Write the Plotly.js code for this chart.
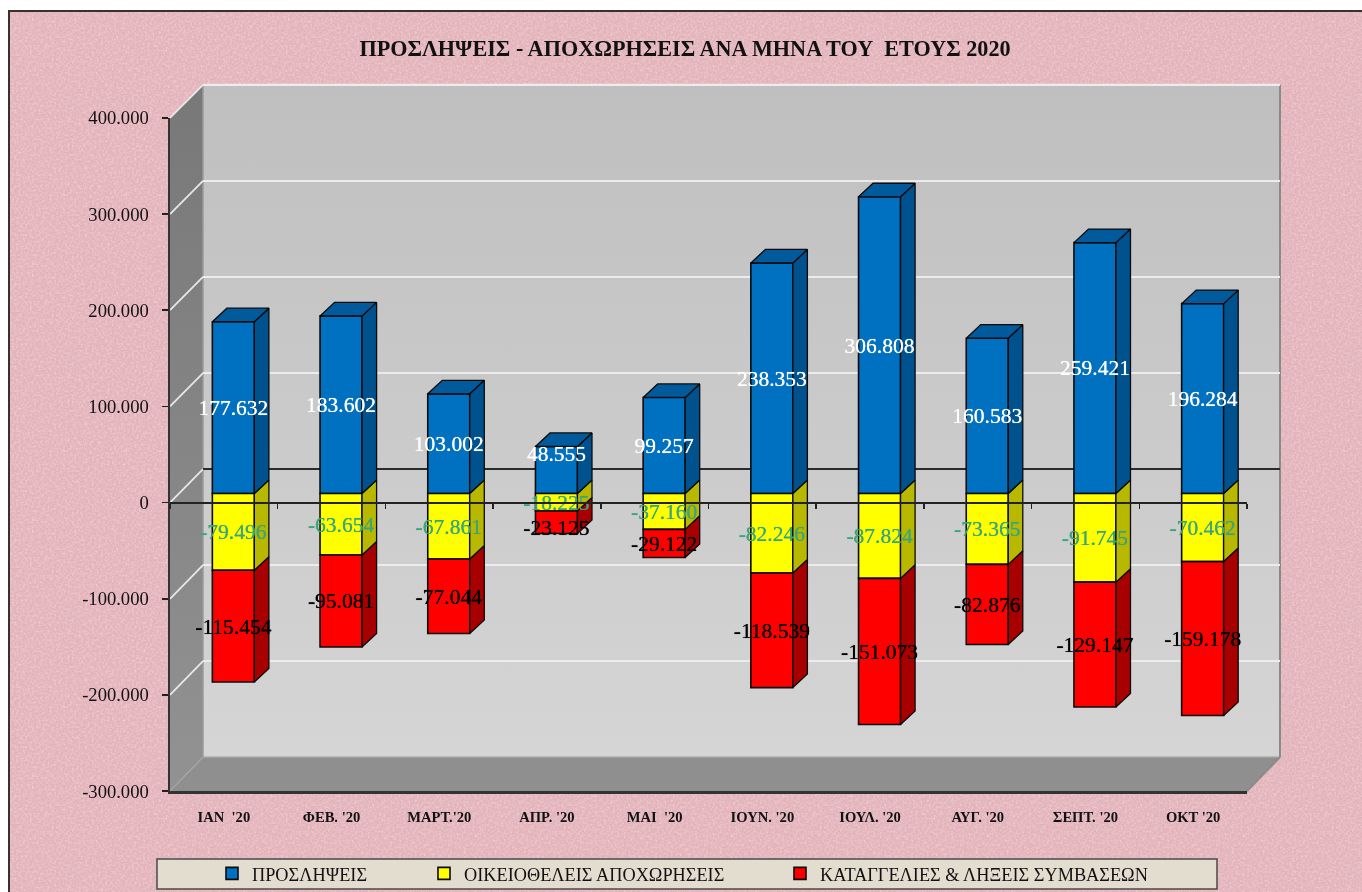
<!DOCTYPE html>
<html>
<head>
<meta charset="utf-8">
<script src="https://cdn.plot.ly/plotly-3.0.1.min.js"></script>
<style>
html,body{margin:0;padding:0;background:#fff;width:1362px;height:892px;overflow:hidden}
#frame{position:absolute;left:8px;top:10px;width:1354px;height:882px;border-left:2px solid #3a3030;border-top:2px solid #3a3030;box-sizing:border-box;background-color:#e3b3ba}
#chart{position:absolute;left:0;top:0;width:1362px;height:892px;filter:blur(0.45px)}
</style>
</head>
<body>
<div id="frame"></div>
<div id="chart"></div>
<script>
// ---------- data ----------
const categories = ["ΙΑΝ  '20","ΦΕΒ. '20","ΜΑΡΤ.'20","ΑΠΡ. '20","ΜΑΙ  '20","ΙΟΥΝ. '20","ΙΟΥΛ. '20","ΑΥΓ. '20","ΣΕΠΤ. '20","ΟΚΤ '20"];
const hires      = [177632,183602,103002,48555,99257,238353,306808,160583,259421,196284];
const voluntary  = [-79496,-63654,-67861,-18225,-37160,-82246,-87824,-73365,-91745,-70462];
const dismissals = [-115454,-95081,-77044,-23125,-29122,-118539,-151073,-82876,-129147,-159178];
const yTickVals  = [400000,300000,200000,100000,0,-100000,-200000,-300000];
const yTickText  = ["400.000","300.000","200.000","100.000","0","-100.000","-200.000","-300.000"];
const seriesNames = ["ΠΡΟΣΛΗΨΕΙΣ","ΟΙΚΕΙΟΘΕΛΕΙΣ ΑΠΟΧΩΡΗΣΕΙΣ","ΚΑΤΑΓΓΕΛΙΕΣ & ΛΗΞΕΙΣ ΣΥΜΒΑΣΕΩΝ"];
const chartTitle = "ΠΡΟΣΛΗΨΕΙΣ - ΑΠΟΧΩΡΗΣΕΙΣ ΑΝΑ ΜΗΝΑ ΤΟΥ\u00a0 ΕΤΟΥΣ 2020";

// ---------- geometry ----------
const W=1362,H=892, FONT='"Liberation Serif","Times New Roman",serif';
const fx=p=>p/W, fy=p=>1-p/H;
const front={l:170,r:1247,t:118,b:792}, back={l:203,r:1280,t:85,b:758}, barPlane={l:179.5,r:1256.5,t:106.8,b:784.4};
const idx=categories.map((_,i)=>i), xRange=[-0.5,9.5], yRange=[-300000,400000];
const barW=0.39, depthX=0.135, depthY=14000, labelDrop=2100;
const valPx=(v,f)=>f.b-(v-yRange[0])/(yRange[1]-yRange[0])*(f.b-f.t);
const fmt=v=>(v<0?'-':'')+String(Math.abs(v)).replace(/(\d)(\d{3})$/,'$1.$2');

// ---------- faces derived from the values ----------
function sideFace(lows,highs,name,color){
  const xs=[],ys=[];
  idx.forEach(i=>{const r=i+barW/2;
    xs.push(r,r+depthX,r+depthX,r,r,null);
    ys.push(lows[i],lows[i]+depthY,highs[i]+depthY,highs[i],lows[i],null);});
  return {type:'scatter',mode:'lines',x:xs,y:ys,fill:'toself',fillcolor:color,line:{color:'#0a0a0a',width:1.3},
    xaxis:'x2',yaxis:'y2',showlegend:false,hoverinfo:'skip',name:name};
}
function topFace(tops,color){
  const xs=[],ys=[];
  idx.forEach(i=>{const a=i-barW/2,b=i+barW/2;
    xs.push(a,a+depthX,b+depthX,b,a,null);
    ys.push(tops[i],tops[i]+depthY,tops[i]+depthY,tops[i],tops[i],null);});
  return {type:'scatter',mode:'lines',x:xs,y:ys,fill:'toself',fillcolor:color,line:{color:'#0a0a0a',width:1.3},
    xaxis:'x2',yaxis:'y2',showlegend:false,hoverinfo:'skip'};
}
function bar(vals,color,i){
  return {type:'bar',x:idx,y:vals,width:barW,name:seriesNames[i],marker:{color:color,line:{color:'#0a0a0a',width:1.6}},
    xaxis:'x2',yaxis:'y2',hoverinfo:'skip',legend:i===0?'legend':'legend'+(i+1)};
}
function labels(vals,starts,color,nudge){
  return {type:'scatter',mode:'text',x:idx,y:vals.map((v,i)=>starts[i]+v/2-labelDrop+(nudge[i]||0)),
    text:vals.map(fmt),textposition:'middle center',textfont:{family:FONT,size:21.5,color:color,shadow:'0 0 0.7px '+color},
    xaxis:'x2',yaxis:'y2',showlegend:false,hoverinfo:'skip',cliponaxis:false};
}
const anchorTrace=(xa,ya)=>({type:'scatter',mode:'markers',x:[null],y:[null],xaxis:xa,yaxis:ya,showlegend:false,hoverinfo:'skip'});
const zero=idx.map(()=>0);
const afterVoluntary=voluntary.slice();
const floorEnd=voluntary.map((v,i)=>v+dismissals[i]);

const traces=[
  anchorTrace('x','y'),
  bar(hires,'#0070c0',0), bar(voluntary,'#ffff00',1), bar(dismissals,'#ff0000',2),
  sideFace(floorEnd,afterVoluntary,'s3','#a80000'),
  sideFace(afterVoluntary,zero,'s2','#b8b800'),
  sideFace(zero,hires,'s1','#00528f'),
  topFace(hires,'#005a9c'),
  labels(hires,zero,'#ffffff',{3:17000}),
  labels(voluntary,zero,'#3aa57a',{}),
  labels(dismissals,afterVoluntary,'#000000',{3:-5500}),
  anchorTrace('x3','y3'),
  anchorTrace('x4','y4')
];

// ---------- walls ----------
const poly=pts=>pts.map(p=>p.join(',')).join(' ');
const wallSvg=`<svg xmlns="http://www.w3.org/2000/svg" width="${W}" height="${H}" viewBox="0 0 ${W} ${H}">
<defs><linearGradient id="a" x1="0" y1="0" x2="0" y2="1"><stop offset="0" stop-color="#bfbfbf"/><stop offset="1" stop-color="#d5d5d5"/></linearGradient>
<linearGradient id="b" x1="0" y1="0" x2="0" y2="1"><stop offset="0" stop-color="#787878"/><stop offset="1" stop-color="#929292"/></linearGradient></defs>
<polygon points="${poly([[back.l,back.t],[back.r,back.t],[back.r,back.b],[back.l,back.b]])}" fill="url(#a)"/>
<polygon points="${poly([[front.l,front.t],[back.l,back.t],[back.l,back.b],[front.l,front.b]])}" fill="url(#b)"/>
<polygon points="${poly([[front.l,front.b],[back.l,back.b],[back.r,back.b],[front.r,front.b]])}" fill="#8f8f8f"/>
</svg>`;

const line=(x0,y0,x1,y1,color,width)=>({type:'line',xref:'paper',yref:'paper',layer:'below',x0:fx(x0),y0:fy(y0),x1:fx(x1),y1:fy(y1),line:{color:color,width:width}});
const shapes=[
  line(back.r,back.t,back.r,back.b,'#8a8a8a',2),
  line(back.l,back.b,back.r,back.b,'#a0a0a0',1.5),
  line(back.l,back.t,back.l,back.b,'#9a9a9a',1.5),
  line(front.r,front.b,back.r,back.b,'#8a8a8a',2),
  line(front.l,front.b,back.l,back.b,'#a8a8a8',1.2),
  line(back.l,back.t,back.r,back.t,'#ececec',2.2),
  {type:'rect',xref:'paper',yref:'paper',layer:'below',x0:fx(157),x1:fx(1217),y0:fy(890),y1:fy(860),fillcolor:'#e3ddd0',line:{color:'#4a4a4a',width:1.5}}
];
yTickVals.slice(0,7).forEach(v=>{
  shapes.push(line(front.l,valPx(v,front),back.l,valPx(v,back),'#e8e8e8',1.8));
});

const legendStyle=x=>({orientation:'h',x:fx(x),xanchor:'left',y:fy(874),yanchor:'middle',bgcolor:'rgba(0,0,0,0)',borderwidth:0,
  font:{family:FONT,size:18.3,color:'#111'},itemclick:false,itemdoubleclick:false});

const hiddenAxis={showgrid:false,zeroline:false,showline:false,showticklabels:false,ticks:''};
const layout={
  width:W,height:H,margin:{l:0,r:0,t:0,b:0,pad:0},paper_bgcolor:'rgba(0,0,0,0)',plot_bgcolor:'rgba(0,0,0,0)',
  font:{family:FONT,color:'#111'},barmode:'relative',showlegend:true,
  title:{text:chartTitle,font:{family:FONT,size:22.2,color:'#111',weight:700},x:fx(685),xanchor:'center',xref:'paper',y:fy(48.5),yanchor:'middle',yref:'paper'},
  legend:legendStyle(212),legend2:legendStyle(424),legend3:legendStyle(780),
  images:[{source:'data:image/svg+xml;charset=utf-8,'+encodeURIComponent(wallSvg),xref:'paper',yref:'paper',x:0,y:1,sizex:1,sizey:1,sizing:'stretch',layer:'below'}],
  shapes:shapes,
  // back wall
  xaxis:{...hiddenAxis,domain:[fx(back.l),fx(back.r)],range:xRange,anchor:'y'},
  yaxis:{domain:[fy(back.b),fy(back.t)],range:yRange,anchor:'x',tickmode:'array',tickvals:yTickVals.slice(0,7),ticktext:yTickText.slice(0,7),
    showticklabels:false,ticks:'',showline:false,showgrid:true,gridcolor:'#ececec',gridwidth:2.2,zeroline:true,zerolinecolor:'#2b2b2b',zerolinewidth:2},
  // plane of the bars
  xaxis2:{...hiddenAxis,domain:[fx(barPlane.l),fx(barPlane.r)],range:xRange,anchor:'y2'},
  yaxis2:{...hiddenAxis,domain:[fy(barPlane.b),fy(barPlane.t)],range:yRange,anchor:'x2'},
  // front axes
  xaxis3:{domain:[fx(front.l),fx(front.r)],range:xRange,anchor:'y3',showgrid:false,zeroline:false,showline:true,linecolor:'#333',linewidth:2.5,ticks:'',
    tickmode:'array',tickvals:idx,ticktext:categories,tickangle:0,ticklabelstandoff:11,tickfont:{family:FONT,size:14.6,color:'#111',weight:700}},
  yaxis3:{domain:[fy(front.b),fy(front.t)],range:yRange,anchor:'x3',showgrid:false,zeroline:false,showline:true,linecolor:'#333',linewidth:2.5,
    ticks:'outside',ticklen:6,tickwidth:1.5,tickcolor:'#222',tickmode:'array',tickvals:yTickVals,ticktext:yTickText,ticklabelstandoff:9,tickfont:{family:FONT,size:18.6,color:'#111'}},
  // zero line with its tick marks
  xaxis4:{domain:[fx(front.l),fx(front.r)],range:xRange,anchor:'free',position:fy(valPx(0,front)),showgrid:false,zeroline:false,showline:true,linecolor:'#222',linewidth:2,
    ticks:'outside',ticklen:5,tickwidth:1.5,tickcolor:'#222',tickmode:'array',tickvals:[-0.5,0.5,1.5,2.5,3.5,4.5,5.5,6.5,7.5,8.5,9.5],showticklabels:false},
  yaxis4:{...hiddenAxis,domain:[fy(front.b),fy(front.t)],range:yRange,anchor:'x4'}
};

const noise=`<svg xmlns="http://www.w3.org/2000/svg" width="256" height="256"><filter id="n"><feTurbulence type="fractalNoise" baseFrequency="0.45" numOctaves="3" stitchTiles="stitch"/><feColorMatrix values="0 0 0 0 1 0 0 0 0 0.92 0 0 0 0 0.94 0 0 0 0.8 -0.32"/></filter><rect width="256" height="256" filter="url(#n)"/></svg>`;
document.getElementById('frame').style.backgroundImage='url("data:image/svg+xml;charset=utf-8,'+encodeURIComponent(noise)+'")';

Plotly.newPlot('chart',traces,layout,{displayModeBar:false,staticPlot:true});
</script>
</body>
</html>
